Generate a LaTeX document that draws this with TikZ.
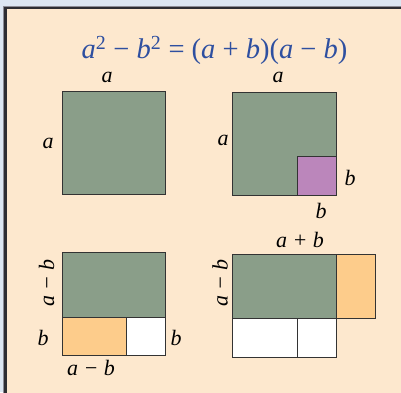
\documentclass[tikz,border=0pt]{standalone}
\usepackage{fontspec}
\setmainfont{Liberation Serif}
\definecolor{outerbg}{RGB}{220,230,242}
\definecolor{panel}{RGB}{253,232,206}
\definecolor{framedark}{RGB}{45,45,50}
\definecolor{framegray}{RGB}{140,140,150}
\definecolor{sqgreen}{RGB}{138,158,137}
\definecolor{sqpurple}{RGB}{187,134,187}
\definecolor{sqorange}{RGB}{253,204,139}
\definecolor{titleblue}{RGB}{46,79,160}
\begin{document}
\begin{tikzpicture}[x=1pt,y=-1pt,
  piece/.style={draw=black!80,line width=1pt},
  lab/.style={font=\fontsize{22}{22}\selectfont\itshape,inner sep=0pt},
  ttl/.style={font=\fontsize{28.5}{28.5}\selectfont,text=titleblue,inner sep=0pt}]
\useasboundingbox (0,0) rectangle (401,392);
\fill[outerbg] (0,0) rectangle (401,392);
\fill[panel] (5,8) rectangle (405,396);
\draw[framegray,line width=1pt] (3.5,406) -- (3.5,6.5) -- (405,6.5);
\draw[framedark,line width=2.5pt] (5.5,406) -- (5.5,8) -- (405,8);
% title
\node[ttl] (title) at (214.5,50) {\textit{a}\textsuperscript{2} − \textit{b}\textsuperscript{2} = (\textit{a} + \textit{b})(\textit{a} − \textit{b})};
% figure 1
\draw[piece,fill=sqgreen] (62,91) rectangle (165,194);
\node[lab] (f1top) at (107,77) {a};
\node[lab] (f1left) at (48,143) {a};
% figure 2
\draw[piece,fill=sqgreen] (232.5,92) rectangle (336,195);
\draw[piece,fill=sqpurple] (297,156.5) rectangle (336,195);
\node[lab] (f2top) at (278,77) {a};
\node[lab] (f2left) at (223,140) {a};
\node[lab] (f2b) at (350,178) {b};
\node[lab] (f2bb) at (321,211) {b};
% figure 3
\draw[piece,fill=sqgreen] (62,252) rectangle (165,317);
\draw[piece,fill=sqorange] (62,317) rectangle (126,355);
\draw[piece,fill=white] (126,317) rectangle (165,355);
\node[lab,rotate=90] (f3left) at (46.5,283) {a − b};
\node[lab] (f3b) at (43,338) {b};
\node[lab] (f3br) at (176,338) {b};
\node[lab] (f3bot) at (91,368) {a − b};
% figure 4
\draw[piece,fill=sqgreen] (232.5,254.5) rectangle (336,318.5);
\draw[piece,fill=sqorange] (336,254.5) rectangle (375,318.5);
\draw[piece,fill=white] (232.5,318.5) rectangle (297,357.5);
\draw[piece,fill=white] (297,318.5) rectangle (336,357.5);
\node[lab,rotate=90] (f4left) at (220,283) {a − b};
\node[lab] (f4top) at (300,240) {a + b};
\end{tikzpicture}
\end{document}
